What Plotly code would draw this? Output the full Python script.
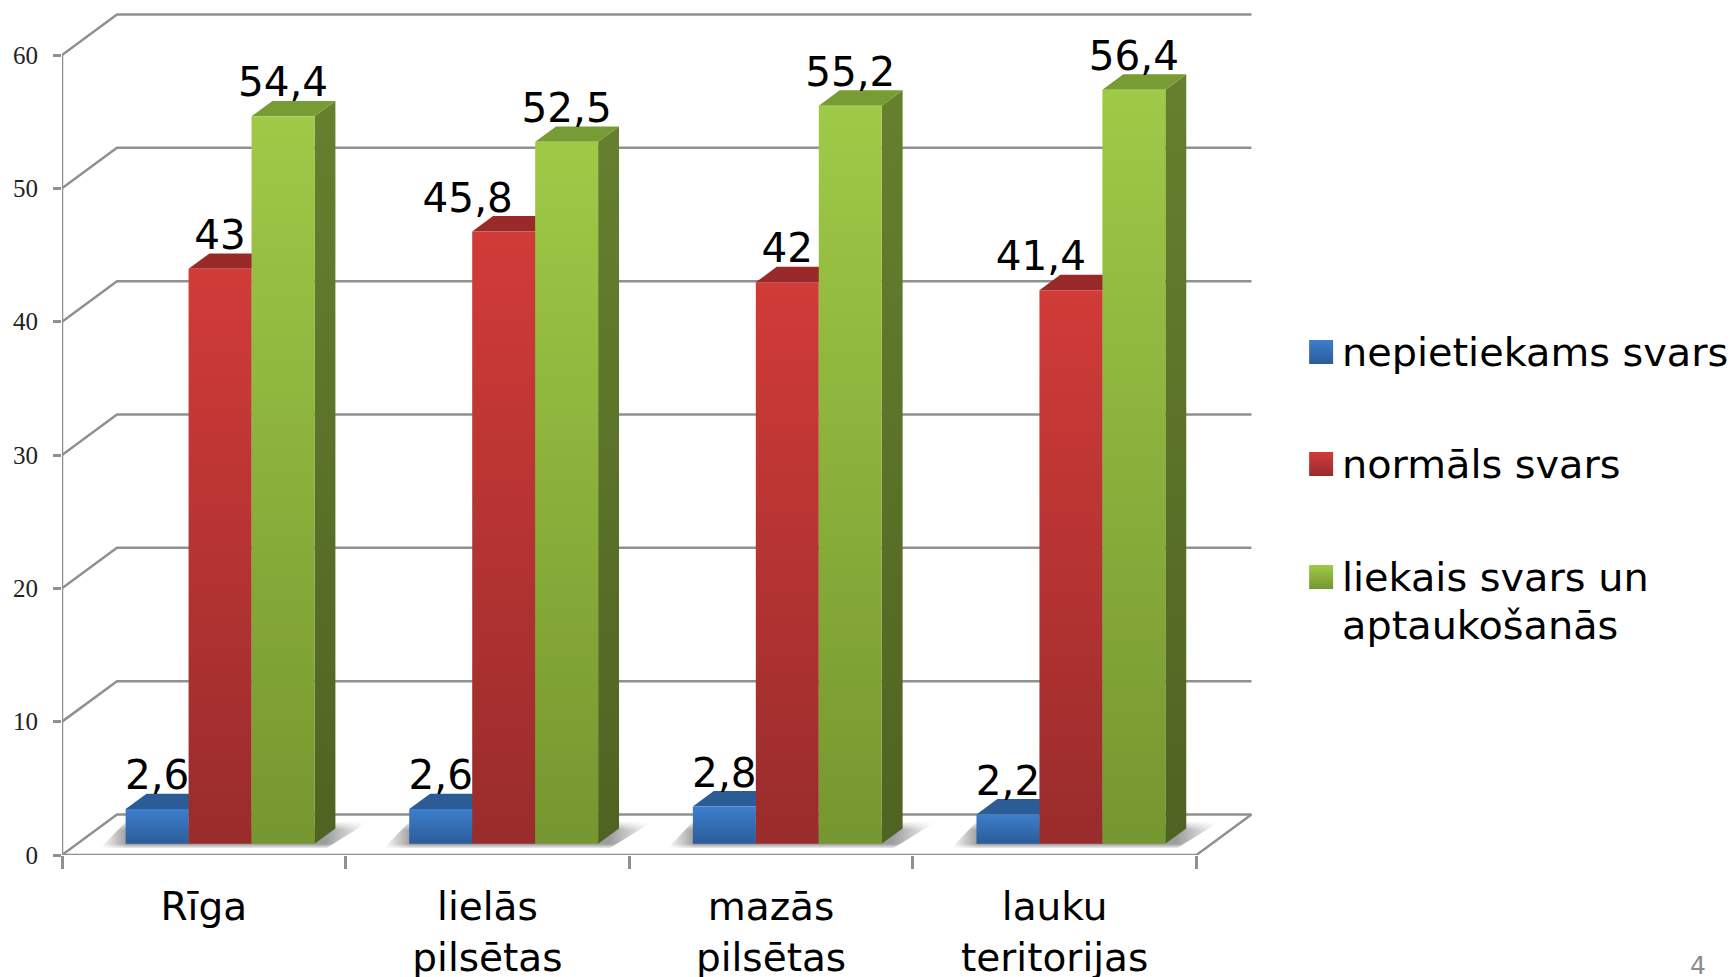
import plotly.graph_objects as go

categories = ["Rīga", "lielās<br>pilsētas", "mazās<br>pilsētas", "lauku<br>teritorijas"]
series_names = ["nepietiekams svars", "normāls svars", "liekais svars un<br>aptaukošanās"]
nepietiekams = [2.6, 2.6, 2.8, 2.2]
normals = [43, 45.8, 42, 41.4]
liekais = [54.4, 52.5, 55.2, 56.4]
y_ticks = [0, 10, 20, 30, 40, 50, 60]

# Pixel geometry of the oblique projection
PX_LEFT, PX_BASE = 61.5, 855.0
PX_CAT, PX_UNIT = 283.7, 13.333
DEPTH_X, DEPTH_Y = 55.0 / PX_CAT, 40.5 / PX_UNIT
W, H = 1735, 977
X_MAX = (W - PX_LEFT) / PX_CAT
Y_MAX = PX_BASE / PX_UNIT
BAR_START, BAR_W = 0.171, 0.222
BAR_GAIN = 1.003
Z0, Z1 = 0.275, 0.655
GRID = "#909090"
SANS = "DejaVu Sans"
# Data labels the reference moves sideways to clear a neighbouring bar: (category, series) -> px
LABEL_NUDGE = {(1, 1): -36, (3, 1): -30}

styles = [
    dict(front=("#3c7ece", "#2c5c98"), side=("#2c5c96", "#234a7a"), top="#2c5c96"),
    dict(front=("#d13b38", "#992c2c"), side=("#992a2a", "#7a2222"), top="#9a2a2a"),
    dict(front=("#9fca47", "#76962f"), side=("#66802e", "#4f6322"), top="#769c33"),
]


def proj(c, v, z):
    return c + z * DEPTH_X, v + z * DEPTH_Y


def px2axis(px, py):
    return (px - PX_LEFT) / PX_CAT, (PX_BASE - py) / PX_UNIT


def paper(px, py):
    return (px - PX_LEFT) / (W - PX_LEFT), 1 - py / PX_BASE


fig = go.Figure()


def line(points, width=2.5, color=GRID):
    fig.add_trace(go.Scatter(
        x=[p[0] for p in points], y=[p[1] for p in points], mode="lines",
        line=dict(color=color, width=width), showlegend=False,
        hoverinfo="skip", cliponaxis=False))


def poly(points, solid=None, grad=None, gtype="vertical", start=None, stop=None, name=None):
    xs = [p[0] for p in points] + [points[0][0]]
    ys = [p[1] for p in points] + [points[0][1]]
    kw = dict(fillcolor=solid) if solid else dict(
        fillgradient=dict(type=gtype, colorscale=grad, start=start, stop=stop))
    fig.add_trace(go.Scatter(x=xs, y=ys, mode="none", fill="toself", showlegend=False,
                             hoverinfo="skip", cliponaxis=False, name=name, **kw))


# Soft floor shadows
for i in range(4):
    off = i * PX_CAT
    a, b = px2axis(100 + off, 848), px2axis(326 + off, 848)
    c, d = px2axis(368 + off, 822), px2axis(125 + off, 822)
    poly([a, b, c, d], gtype="horizontal", start=a[0], stop=c[0], grad=[
        [0, "rgba(125,125,125,0)"], [0.1, "rgba(125,125,125,0.75)"],
        [0.84, "rgba(125,125,125,0.75)"], [1, "rgba(125,125,125,0)"]])
    # fade the shadow out at its near and far edges
    e, f = px2axis(95 + off, 844), px2axis(345 + off, 844)
    g, h = px2axis(345 + off, 849), px2axis(95 + off, 849)
    poly([e, f, g, h], grad=[[0, "rgba(255,255,255,0)"], [1, "rgba(255,255,255,1)"]], start=e[1], stop=g[1])
    e, f = px2axis(95 + off, 830), px2axis(372 + off, 830)
    g, h = px2axis(372 + off, 821), px2axis(95 + off, 821)
    poly([e, f, g, h], grad=[[0, "rgba(255,255,255,0)"], [1, "rgba(255,255,255,1)"]], start=e[1], stop=g[1])

# Walls and floor
for t in y_ticks:
    back = proj(0, t, 1)
    line([proj(0, t, 0), back, proj(4, t, 1)])
line([proj(0, 0, 0), proj(4, 0, 0), proj(4, 0, 1)])
line([proj(0, 0, 0), proj(0, 60, 0)])

# Bars
all_series = [nepietiekams, normals, liekais]
labels_x, labels_y, labels_t = [], [], []
for i in range(4):
    for s, vals in enumerate(all_series):
        v = vals[i] * BAR_GAIN
        st = styles[s]
        c0 = i + BAR_START + s * BAR_W
        c1 = c0 + BAR_W
        # side
        p1, p2, p3, p4 = proj(c1, 0, Z0), proj(c1, 0, Z1), proj(c1, v, Z1), proj(c1, v, Z0)
        poly([p1, p2, p3, p4], grad=[[0, st["side"][0]], [1, st["side"][1]]],
             start=p3[1], stop=p1[1], name=series_names[s])
        # top
        poly([proj(c0, v, Z0), proj(c1, v, Z0), proj(c1, v, Z1), proj(c0, v, Z1)],
             solid=st["top"], name=series_names[s])
        # front
        f1, f2, f3, f4 = proj(c0, 0, Z0), proj(c1, 0, Z0), proj(c1, v, Z0), proj(c0, v, Z0)
        poly([f1, f2, f3, f4], grad=[[0, st["front"][0]], [1, st["front"][1]]],
             start=f3[1], stop=f1[1], name=series_names[s])
        labels_x.append((f1[0] + f2[0]) / 2 + LABEL_NUDGE.get((i, s), 0) / PX_CAT)
        labels_y.append(f3[1] + 30 / PX_UNIT)
        labels_t.append(str(vals[i]).replace(".", ","))

fig.add_trace(go.Scatter(x=labels_x, y=labels_y, text=labels_t, mode="text",
                         textposition="middle center", cliponaxis=False,
                         textfont=dict(family=SANS, size=40.5, color="#000000"),
                         showlegend=False, hoverinfo="skip"))

# Legend
legend_y = [352, 464, 577]
legend_line_y = [[352], [464], [577, 625]]
for s, name in enumerate(series_names):
    cy = legend_y[s]
    a, b = px2axis(1309, cy + 12), px2axis(1333, cy + 12)
    c, d = px2axis(1333, cy - 12), px2axis(1309, cy - 12)
    poly([a, b, c, d], grad=[[0, styles[s]["front"][0]], [1, styles[s]["front"][1]]],
         start=c[1], stop=a[1], name=name)
    for text, py in zip(name.split("<br>"), legend_line_y[s]):
        tx, ty = paper(1340, py)
        fig.add_annotation(x=tx, y=ty, xref="paper", yref="paper",
                           text=text, showarrow=False, xanchor="left", yanchor="middle", align="left",
                           font=dict(family=SANS, size=39.8, color="#000000"))

nx, ny = paper(1698, 965)
fig.add_annotation(x=nx, y=ny, xref="paper", yref="paper", text="4", showarrow=False,
                   font=dict(family=SANS, size=25, color="#8c8c8c"), xanchor="center", yanchor="middle")

fig.update_layout(
    width=W, height=H, autosize=False, showlegend=False,
    paper_bgcolor="white", plot_bgcolor="white",
    margin=dict(l=PX_LEFT, r=0, t=0, b=H - PX_BASE, pad=0),
    xaxis=dict(range=[0, X_MAX], showgrid=False, zeroline=False, showline=False, automargin=False,
               tickmode="array", tickvals=[i + 0.5 for i in range(4)], ticktext=categories,
               ticks="", ticklabelstandoff=25,
               tickfont=dict(family=SANS, size=39, color="#000000"),
               minor=dict(tickmode="array", tickvals=[0, 1, 2, 3, 4], ticks="outside", ticklen=13,
                          tickwidth=2.5, tickcolor=GRID, showgrid=False)),
    yaxis=dict(range=[0, Y_MAX], showgrid=False, zeroline=False, showline=False, automargin=False,
               tickmode="array", tickvals=y_ticks, ticks="outside", ticklen=8, tickwidth=2.5,
               tickcolor=GRID, ticklabelstandoff=10,
               tickfont=dict(family="Liberation Serif", size=25, color="#222222")),
)

fig.write_html("out.html", config={"displayModeBar": False},
               post_script="document.body.style.margin='0';document.body.style.overflow='hidden';")
